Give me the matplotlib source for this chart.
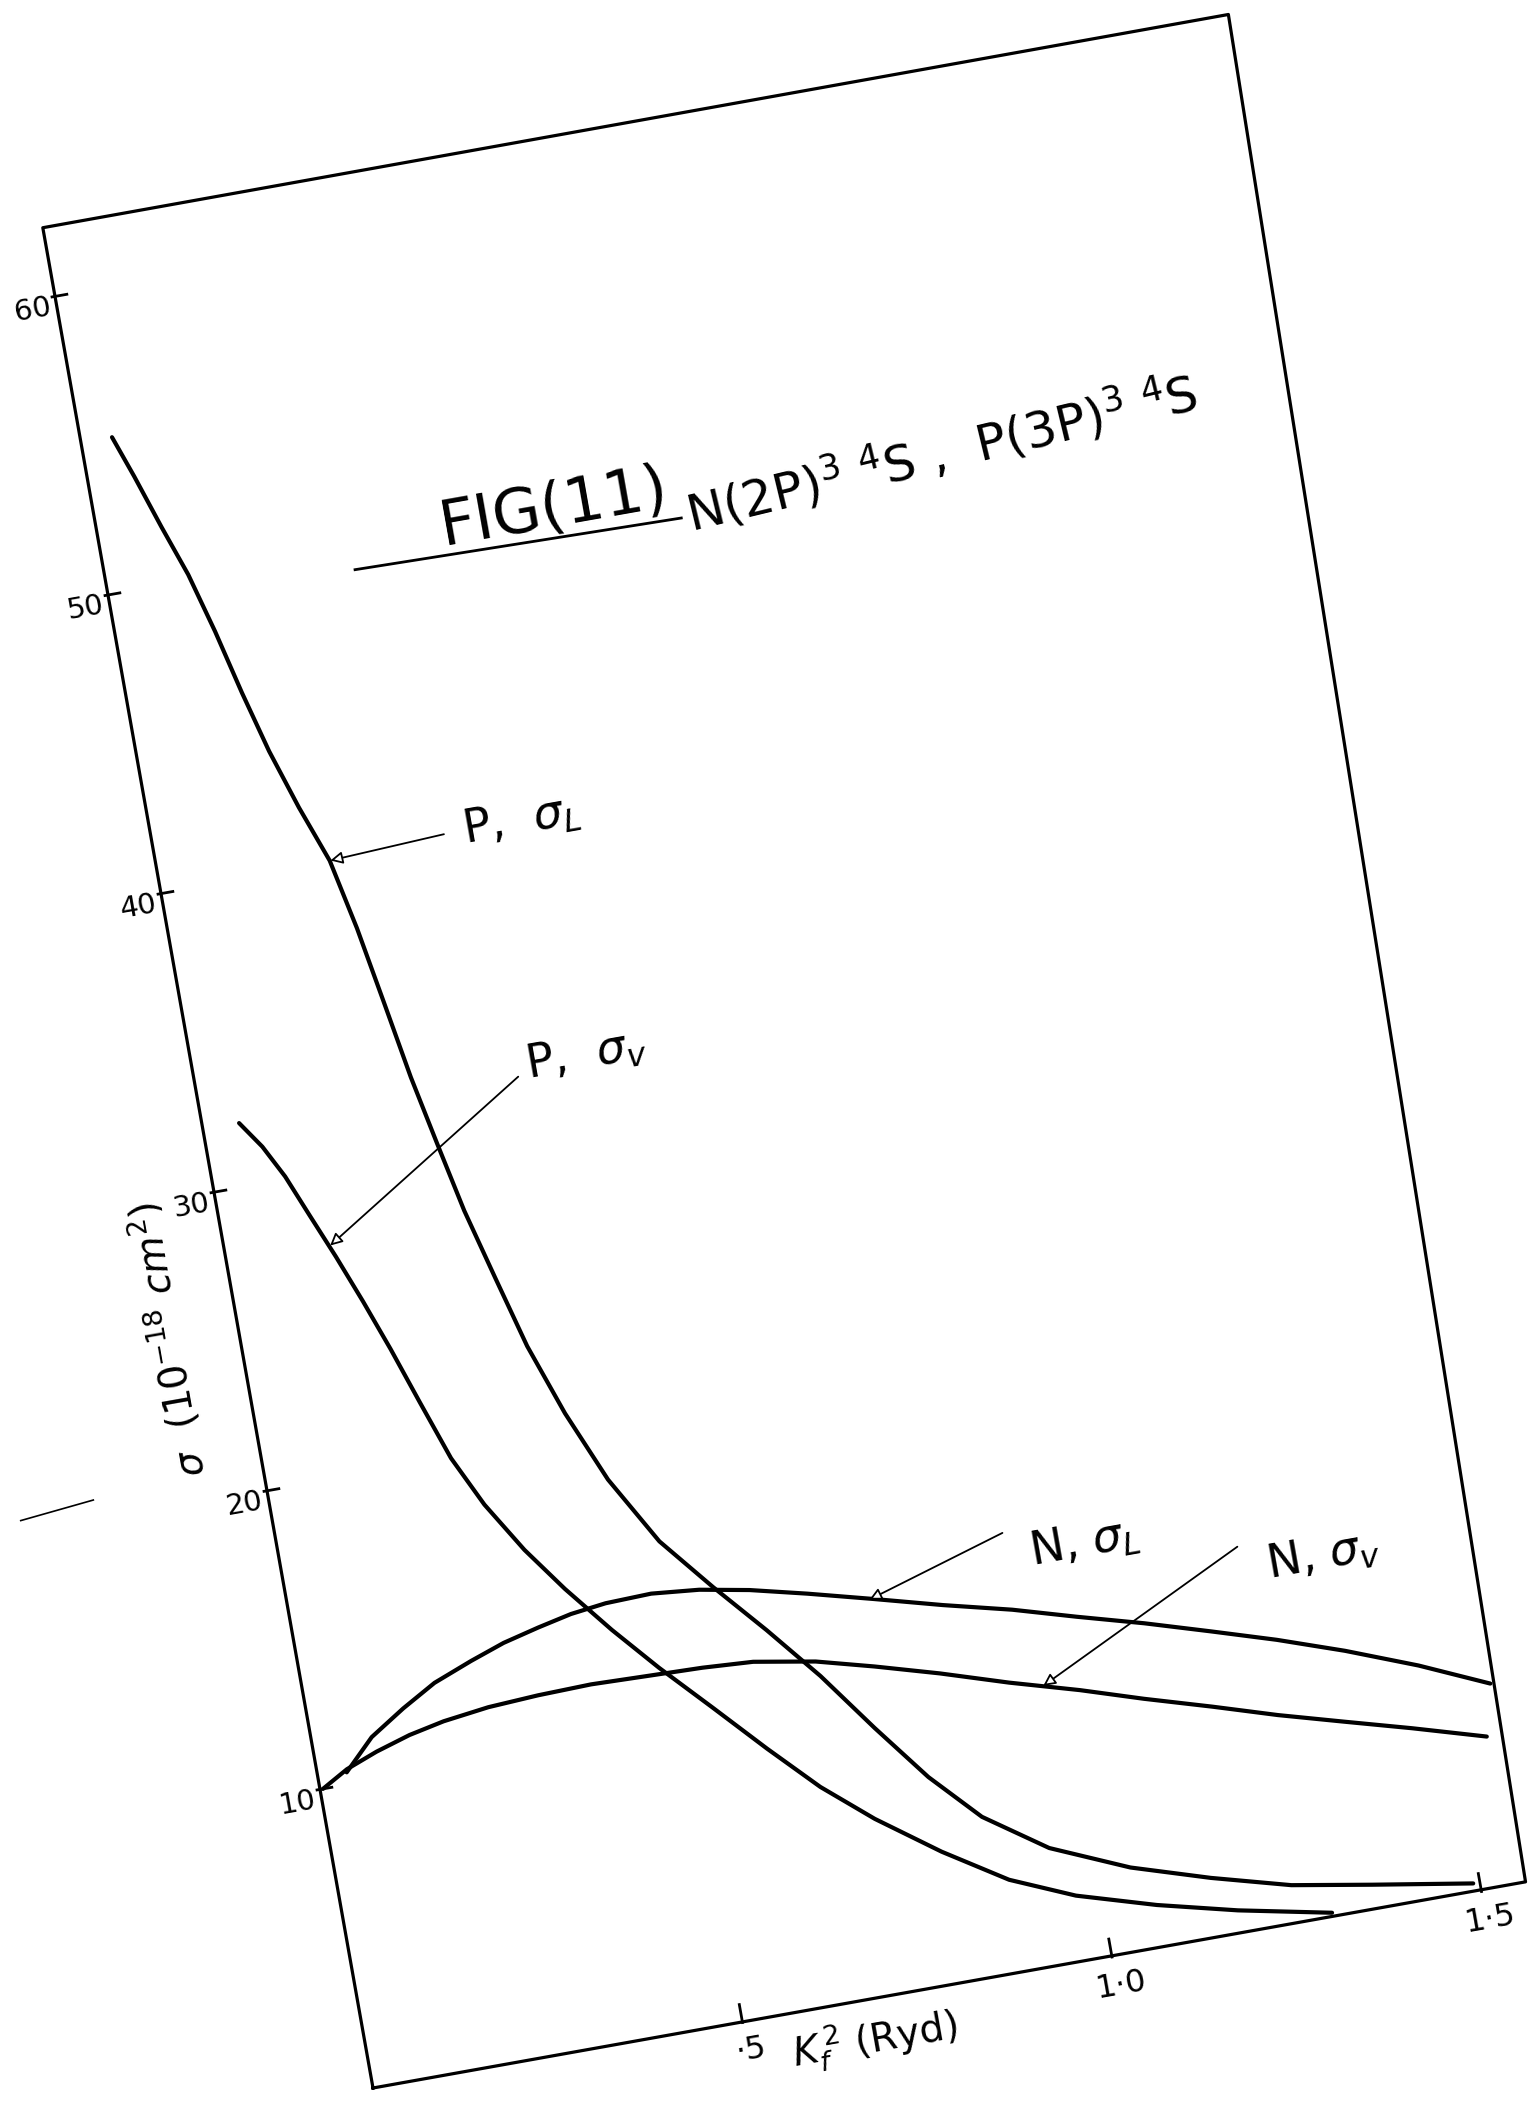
import numpy as np
import matplotlib.pyplot as plt
from matplotlib.transforms import Affine2D

# --- data (K_f^2 in Ryd, sigma in 1e-18 cm^2) ---
k_p_sl = [0.042, 0.062, 0.086, 0.110, 0.132, 0.153, 0.175, 0.201, 0.229, 0.249,
          0.267, 0.285, 0.304, 0.324, 0.349, 0.375, 0.409, 0.450, 0.503, 0.563,
          0.623, 0.683, 0.742, 0.801, 0.862, 0.943, 1.045, 1.148, 1.252, 1.358, 1.491]
s_p_sl = [55.1, 53.7, 51.9, 50.2, 48.2, 46.05, 44.0, 42.0, 40.1, 37.75,
          35.2, 32.6, 30.3, 27.96, 25.6, 23.2, 20.8, 18.4, 16.1, 14.3,
          12.6, 10.8, 8.8, 6.9, 5.3, 3.9, 2.8, 2.0, 1.3, 0.85, 0.31]

k_p_sv = [0.049, 0.074, 0.097, 0.120, 0.145, 0.170, 0.195, 0.221, 0.249, 0.282,
          0.324, 0.368, 0.420, 0.473, 0.534, 0.596, 0.657, 0.721, 0.801, 0.883,
          0.967, 1.071, 1.176, 1.299]
s_p_sv = [32.1, 31.2, 30.1, 28.7, 27.2, 25.6, 23.9, 22.0, 20.0, 18.3,
          16.6, 15.1, 13.5, 12.0, 10.4, 8.75, 7.2, 5.85, 4.4, 3.1,
          2.2, 1.43, 0.79, 0.17]

k_n_sl = [0.039, 0.08, 0.128, 0.175, 0.228, 0.275, 0.324, 0.37, 0.418, 0.48, 0.544,
          0.61, 0.685, 0.77, 0.860, 0.95, 1.033, 1.12, 1.206, 1.29, 1.377, 1.47, 1.560]
s_n_sl = [10.4, 11.4, 12.15, 12.8, 13.3, 13.7, 14.0, 14.25, 14.4, 14.45, 14.3,
          14.0, 13.55, 13.0, 12.4, 11.85, 11.25, 10.65, 10.0, 9.35, 8.6, 7.7, 6.7]

k_n_sv = [0.004, 0.04, 0.083, 0.13, 0.178, 0.24, 0.308, 0.38, 0.454, 0.53, 0.598,
          0.68, 0.756, 0.84, 0.929, 1.02, 1.102, 1.19, 1.274, 1.36, 1.447, 1.543]
s_n_sv = [10.0, 10.5, 10.9, 11.25, 11.5, 11.7, 11.8, 11.85, 11.8, 11.75, 11.65,
          11.3, 10.8, 10.2, 9.5, 8.85, 8.2, 7.55, 6.9, 6.3, 5.7, 5.0]

x_ticks = [0.5, 1.0, 1.5]
x_tick_labels = ['·5', '1·0', '1·5']
y_ticks = [10, 20, 30, 40, 50, 60]
y_tick_labels = ['10', '20', '30', '40', '50', '60']

# hand drawn frame corners (not quite a rectangle)
frame_k = [0, 1.56, 1.605, 0, 0]
frame_s = [0, 0.06, 62.4, 62.3, 0]

W, H = 1539, 2110
fig = plt.figure(figsize=(W / 100, H / 100), dpi=100)
ax = fig.add_axes([0, 0, 1, 1])
ax.set_xlim(0, W)
ax.set_ylim(H, 0)
ax.axis('off')

# the sheet was scanned tilted: map graph units onto the page
paper = Affine2D.from_values(739, -131, -5.3, -29.86, 373, 2088) + ax.transData
ROT = 10.05

ax.plot(frame_k, frame_s, color='black', lw=2.3, transform=paper)

for kk, ss in [(k_p_sl, s_p_sl), (k_p_sv, s_p_sv), (k_n_sl, s_n_sl), (k_n_sv, s_n_sv)]:
    ax.plot(kk, ss, color='black', lw=3.0, solid_capstyle='round',
            solid_joinstyle='round', transform=paper)

# ticks
for t, lab in zip(x_ticks, x_tick_labels):
    ax.plot([t, t], [0, 0.6], color='black', lw=2, transform=paper)
    ax.text(t + 0.005, -0.95, lab, transform=paper, rotation=ROT, rotation_mode='anchor',
            ha='center', va='center', fontsize=23)
for t, lab in zip(y_ticks, y_tick_labels):
    ax.plot([-0.004, 0.016], [t, t], color='black', lw=2, transform=paper)
    ax.text(-0.008, t - 0.3, lab, transform=paper, rotation=ROT, rotation_mode='anchor',
            ha='right', va='center', fontsize=21)

# axis labels
ax.text(0.67, -1.3, r'$K_f^{\,2}$ (Ryd)', transform=paper, rotation=ROT,
        rotation_mode='anchor', ha='center', va='center', fontsize=28)
ax.text(-0.095, 25.5, r'$\sigma$  $(10^{-18}\ cm^2)$', transform=paper, rotation=90 + ROT,
        rotation_mode='anchor', ha='center', va='center', fontsize=28)

# title
ax.plot([0.33, 0.77], [49.4, 49.2], color='black', lw=2, transform=paper)
ax.text(0.605, 49.7, 'FIG(11)', transform=paper, rotation=ROT, rotation_mode='anchor',
        ha='center', va='baseline', fontsize=45)
ax.text(0.78, 48.7, r'N(2P)$^3$ $^4$S ,  P(3P)$^3$ $^4$S', transform=paper, rotation=ROT + 3.5,
        rotation_mode='anchor', ha='left', va='baseline', fontsize=36)

# curve labels with arrows
arrow = dict(arrowstyle='-|>', color='black', lw=1.3, mutation_scale=18, fc='white',
             shrinkA=0, shrinkB=0)
labels = [
    (r'P,  $\sigma_L$', (0.49, 40.3), (0.385, 40.3), (0.230, 40.1)),
    (r'P,  $\sigma_v$', (0.52, 32.3), (0.426, 32.0), (0.140, 27.6)),
    (r'N, $\sigma_L$', (1.06, 13.6), (0.955, 14.4), (0.765, 13.0)),
    (r'N, $\sigma_v$', (1.37, 11.8), (1.260, 12.6), (0.973, 9.2)),
]
for lab, pos, tail, tip in labels:
    ax.text(pos[0], pos[1], lab, transform=paper, rotation=ROT, rotation_mode='anchor',
            ha='center', va='center', fontsize=33)
    ax.annotate('', xy=tip, xycoords=paper, xytext=tail, textcoords=paper, arrowprops=arrow)

# stray pencil mark at the left margin
ax.plot([-0.33, -0.23], [20.45, 20.7], color='black', lw=1.2, transform=paper)

fig.savefig('out.png', dpi=100, facecolor='white')
